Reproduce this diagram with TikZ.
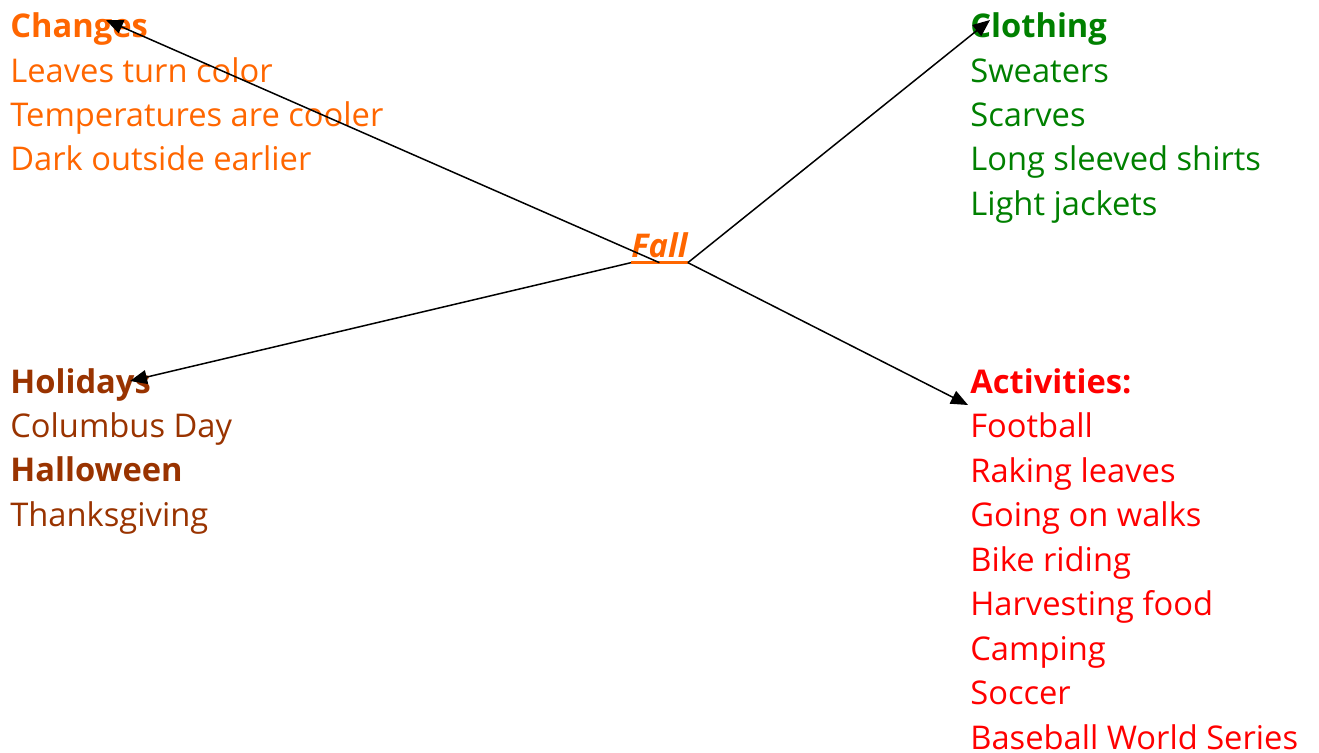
\documentclass[tikz,border=0pt]{standalone}
\usepackage{fontspec}
\setmainfont{Open Sans}
\usetikzlibrary{arrows.meta}
\definecolor{changecol}{RGB}{255,102,0}
\definecolor{clothcol}{RGB}{0,128,0}
\definecolor{holcol}{RGB}{153,51,0}
\definecolor{actcol}{RGB}{255,0,0}

\begin{document}
\begin{tikzpicture}[x=0.02cm, y=-0.02cm,
    item/.style={anchor=base west, inner sep=0pt, font=\fontsize{18.6}{22}\selectfont},
    link/.style={-{Triangle[length=0.34cm,width=0.28cm]}, line width=0.03cm}]
        \useasboundingbox (0,0) rectangle (1319,753);

        % centre word
        \node[item, inner ysep=0.08cm, text=changecol] (fall) at (631,258) {\bfseries\itshape Fall};
        \draw[changecol, line width=0.06cm] (fall.south west) -- (fall.south east);

        % the four lists
        \foreach \t [count=\i from 0] in {\textbf{Changes}, Leaves turn color, Temperatures are cooler, Dark outside earlier}
        \node[item, text=changecol] (chg\i) at (10,38+44.3*\i) {\t};

        \foreach \t [count=\i from 0] in {\textbf{Clothing}, Sweaters, Scarves, Long sleeved shirts, Light jackets}
        \node[item, text=clothcol] (clo\i) at (970,38+44.3*\i) {\t};

        \foreach \t [count=\i from 0] in {\textbf{Holidays}, Columbus Day, \textbf{Halloween}, Thanksgiving}
        \node[item, text=holcol] (hol\i) at (10,393+44.4*\i) {\t};

        \foreach \t [count=\i from 0] in {\textbf{Activities:}, Football, Raking leaves, Going on walks, Bike riding, Harvesting food, Camping, Soccer, Baseball World Series}
        \node[item, text=actcol] (act\i) at (970,393+44.5*\i) {\t};

        % arrow tips
        \coordinate (chgtip) at (106,20);
        \coordinate (clotip) at (990,20);
        \coordinate (holtip) at (130,381);
        \coordinate (acttip) at (968,405);

        \draw[link] (fall.south) -- (chgtip);
        \draw[link] (fall.south east) -- (clotip);
        \draw[link] (fall.south west) -- (holtip);
        \draw[link] (fall.south east) -- (acttip);
\end{tikzpicture}
\end{document}
